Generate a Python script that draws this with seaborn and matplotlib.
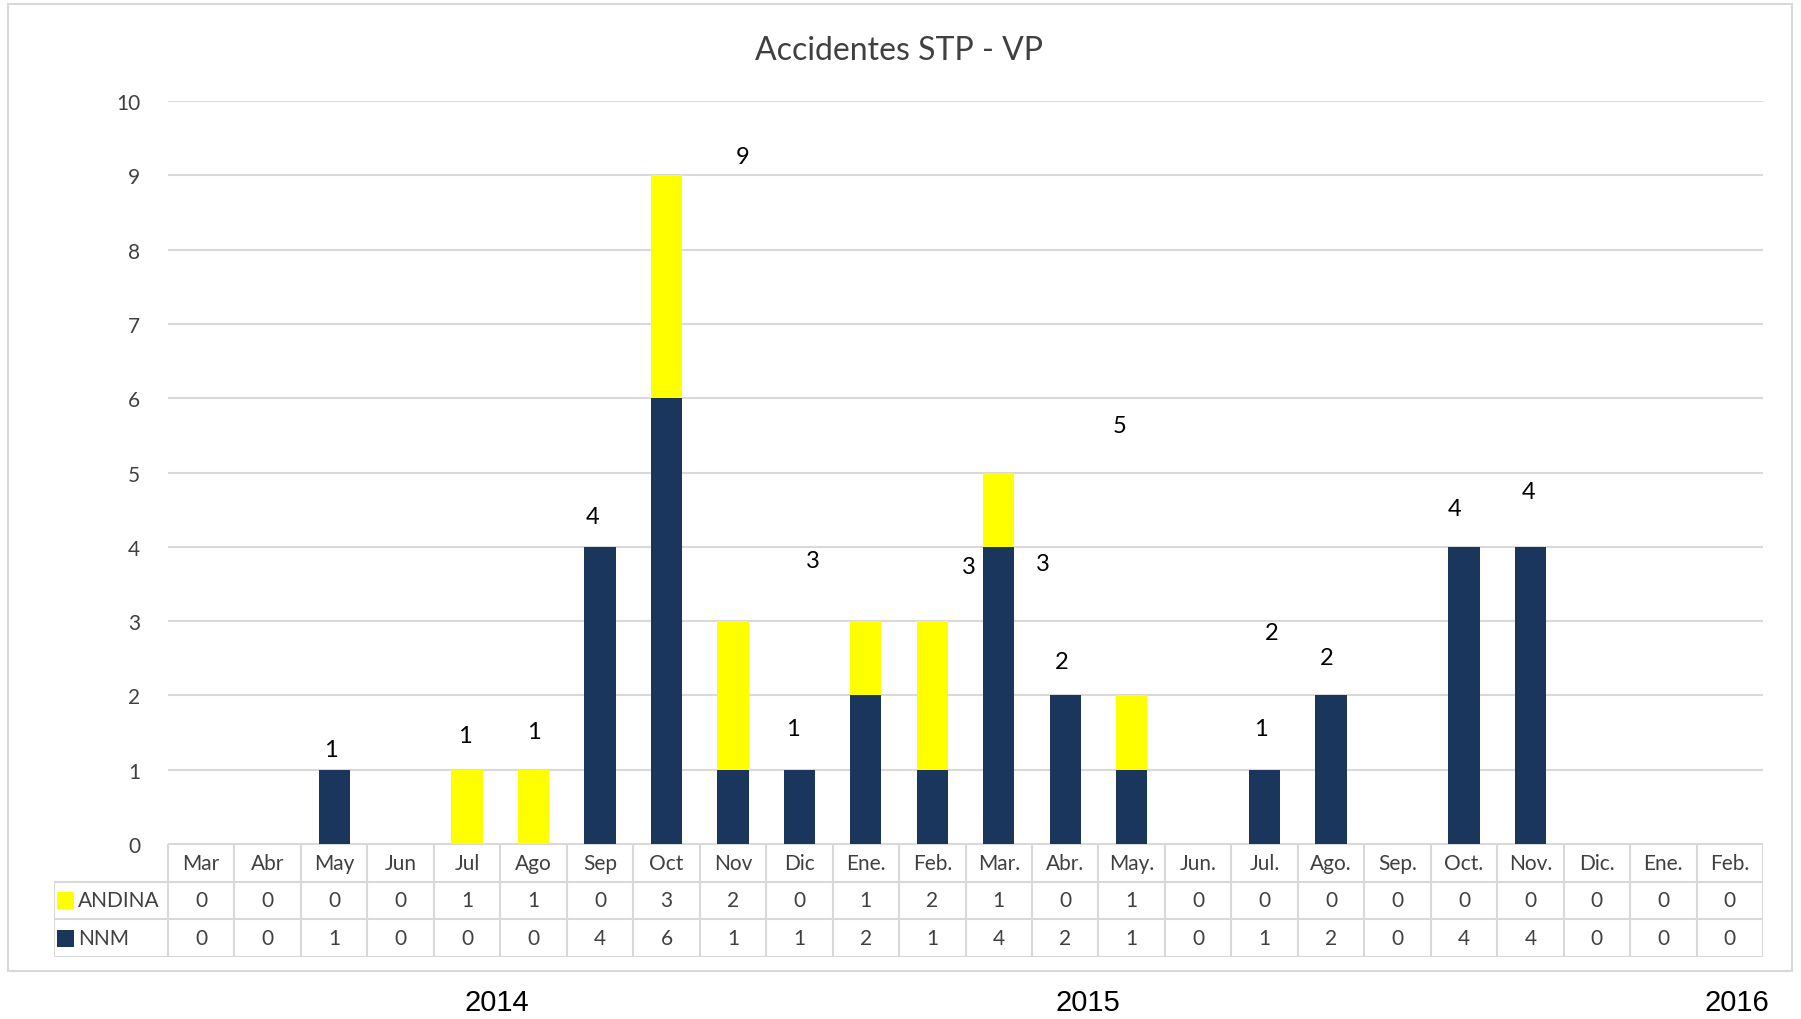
import numpy as np
import pandas as pd
import seaborn as sns
import matplotlib.pyplot as plt
from matplotlib.patches import Rectangle

# data
months = ["Mar", "Abr", "May", "Jun", "Jul", "Ago", "Sep", "Oct", "Nov", "Dic",
          "Ene.", "Feb.", "Mar.", "Abr.", "May.", "Jun.", "Jul.", "Ago.", "Sep.",
          "Oct.", "Nov.", "Dic.", "Ene.", "Feb."]
andina = [0, 0, 0, 0, 1, 1, 0, 3, 2, 0, 1, 2, 1, 0, 1, 0, 0, 0, 0, 0, 0, 0, 0, 0]
nnm = [0, 0, 1, 0, 0, 0, 4, 6, 1, 1, 2, 1, 4, 2, 1, 0, 1, 2, 0, 4, 4, 0, 0, 0]
years = ["2014", "2015", "2016"]

# floating total labels (which bar they belong to, and how far they drifted)
lbl_idx = [2, 4, 5, 6, 7, 8, 9, 10, 11, 12, 13, 16, 14, 17, 19, 20]
lbl_dx = [-0.05, -0.03, 0.01, -0.11, 1.15, 1.21, -0.10, 1.55, 1.66, 1.82, -0.06, -0.06, 2.11, -0.06, -0.14, -0.03]
lbl_dy = [0.27, 0.46, 0.51, 0.41, 0.25, 0.81, 0.55, 0.73, 0.78, 0.63, 0.46, 0.55, 0.85, 0.51, 0.52, 0.74]

NAVY = "#1a365d"
YELLOW = "#ffff00"
GRID = "#d9d9d9"
TXT = "#404040"

df = pd.DataFrame({"idx": range(len(months)), "ANDINA": andina, "NNM": nnm})
df["total"] = df["ANDINA"] + df["NNM"]

sns.set_style("white")
plt.rcParams["font.family"] = ["Lato", "DejaVu Sans"]

fig = plt.figure(figsize=(18.01, 10.2), dpi=100)
W, H = 1801, 1020

# outer chart border
fig.patches.append(Rectangle((8 / W, 1 - 972 / H), (1792 - 8) / W, (972 - 5) / H,
                             transform=fig.transFigure, fill=False, edgecolor=GRID, lw=1.5))

x0, x1, y0, y1 = 168, 1763, 845, 102
ax = fig.add_axes([x0 / W, 1 - y0 / H, (x1 - x0) / W, (y0 - y1) / H])

# stacked bars: total in yellow, NNM drawn on top
sns.barplot(data=df, x="idx", y="total", color=YELLOW, width=0.47, saturation=1, ax=ax, linewidth=0)
sns.barplot(data=df, x="idx", y="NNM", color=NAVY, width=0.47, saturation=1, ax=ax, linewidth=0)

ax.set_xlim(-0.5, len(months) - 0.5)
ax.set_ylim(0, 10)
ax.set_yticks(range(0, 11))
ax.yaxis.grid(True, color=GRID, lw=1.5)
ax.set_axisbelow(True)
for s in ax.spines.values():
    s.set_visible(False)
ax.set_xticks([])
ax.set_xlabel("")
ax.set_ylabel("")
ax.tick_params(axis="y", length=0, pad=20, labelsize=15, labelcolor=TXT)

totals = df["total"].tolist()
for i, dx, dy in zip(lbl_idx, lbl_dx, lbl_dy):
    ax.text(i + dx, totals[i] + dy, str(totals[i]), ha="center", va="center",
            fontsize=17, color="black", clip_on=False)

fig.text(899 / W, 1 - 51 / H, "Accidentes STP - VP", ha="center", va="center",
         fontsize=23, color=TXT)

# data table under the chart
n = len(months)
left_ext = (x0 - 54) / ((x1 - x0) / n)
tx = fig.add_axes([54 / W, 1 - 958 / H, (x1 - 54) / W, (958 - 845) / H])
tx.set_xlim(-0.5 - left_ext, n - 0.5)
tx.set_ylim(3, 0)
tx.axis("off")
tx.hlines(0, -0.5, n - 0.5, color=GRID, lw=1.5)
tx.hlines([1, 2, 3], -0.5 - left_ext, n - 0.5, color=GRID, lw=1.5)
tx.vlines(-0.5 - left_ext, 1, 3, color=GRID, lw=1.5)
tx.vlines(np.arange(n + 1) - 0.5, 0, 3, color=GRID, lw=1.5)
for i, m in enumerate(months):
    tx.text(i, 0.5, m, ha="center", va="center", fontsize=15, color=TXT)
    tx.text(i, 1.5, str(andina[i]), ha="center", va="center", fontsize=15, color=TXT)
    tx.text(i, 2.5, str(nnm[i]), ha="center", va="center", fontsize=15, color=TXT)
for r, (name, col) in enumerate([("ANDINA", YELLOW), ("NNM", NAVY)]):
    tx.add_patch(Rectangle((-0.5 - left_ext + 0.05, 1 + r + 0.27), 0.25, 0.46,
                           facecolor=col, edgecolor="none"))
    tx.text(-0.5 - left_ext + 0.36, 1.5 + r, name, ha="left", va="center",
            fontsize=15, color=TXT)

# year labels below the border
for yr, px in zip(years, [497, 1088, 1737]):
    fig.text(px / W, 1 - 1003 / H, yr, ha="center", va="center", fontsize=21,
             color="black", family=["Liberation Sans", "DejaVu Sans"])

fig.savefig("out.png", dpi=100, facecolor="white")
